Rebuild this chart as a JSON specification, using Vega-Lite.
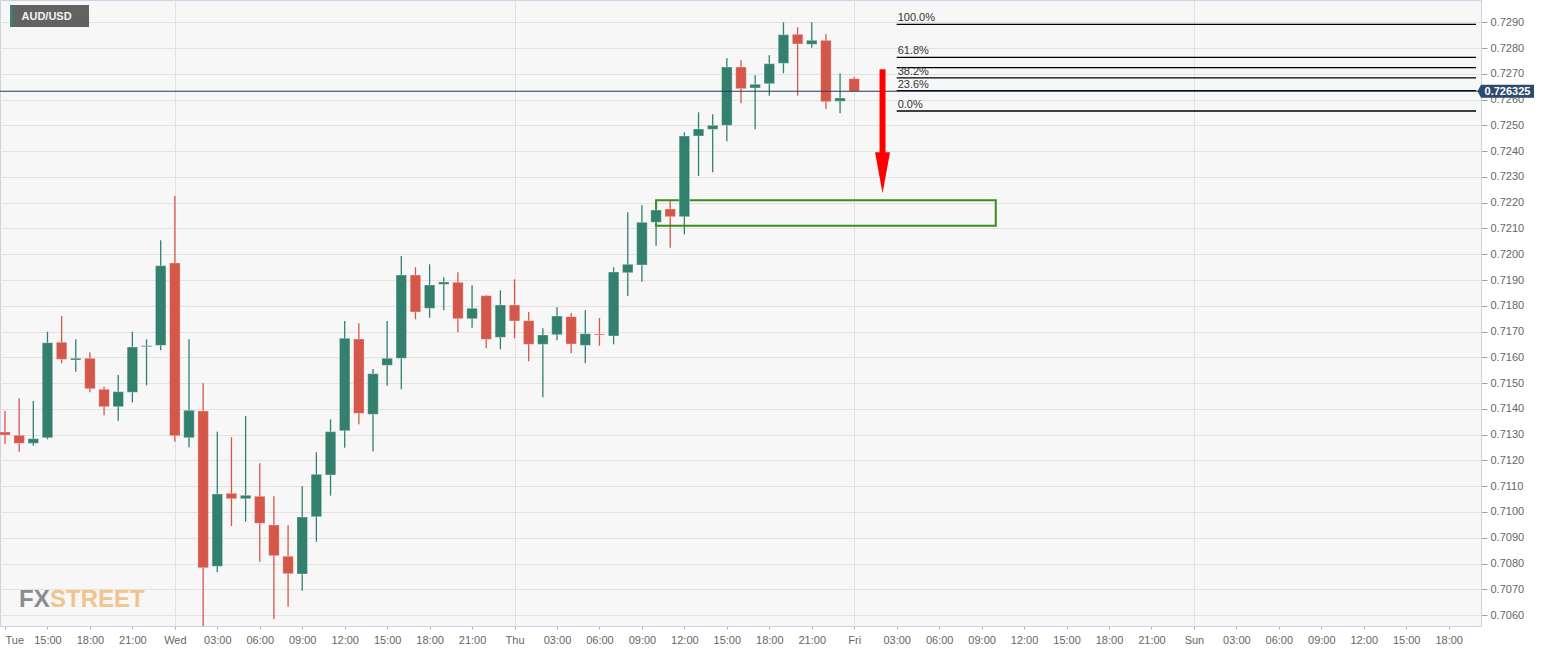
{
  "$schema": "https://vega.github.io/schema/vega-lite/v6.json",
  "width": 1481,
  "height": 626,
  "autosize": "none",
  "padding": {"left": 0, "top": 0, "right": 71, "bottom": 26},
  "background": "#ffffff",
  "config": {
    "view": {"fill": "#f7f7f7", "stroke": "#cdd2e6", "strokeWidth": 1},
    "font": "Liberation Sans",
    "axis": {"labelFont": "Liberation Sans", "labelOverlap": false},
    "axisY": {"labelOverlap": false},
    "axisQuantitative": {"labelOverlap": false}
  },
  "data": {"values": [{}]},
  "datasets": {
    "candles": [
      {"t": -12, "o": 0.713103, "h": 0.713918, "l": 0.712638, "c": 0.712987},
      {"t": -11, "o": 0.712975, "h": 0.714411, "l": 0.712339, "c": 0.712665},
      {"t": -10, "o": 0.712665, "h": 0.714306, "l": 0.712572, "c": 0.712843},
      {"t": -9, "o": 0.712882, "h": 0.716995, "l": 0.71282, "c": 0.716568},
      {"t": -8, "o": 0.716584, "h": 0.717604, "l": 0.715769, "c": 0.715924},
      {"t": -7, "o": 0.715897, "h": 0.7167, "l": 0.715443, "c": 0.715963},
      {"t": -6, "o": 0.715963, "h": 0.716196, "l": 0.714644, "c": 0.714783},
      {"t": -5, "o": 0.71476, "h": 0.714861, "l": 0.713751, "c": 0.714085},
      {"t": -4, "o": 0.714085, "h": 0.715315, "l": 0.713542, "c": 0.714667},
      {"t": -3, "o": 0.714644, "h": 0.716995, "l": 0.714256, "c": 0.716401},
      {"t": -2, "o": 0.716413, "h": 0.7167, "l": 0.714915, "c": 0.716452},
      {"t": -1, "o": 0.716467, "h": 0.720541, "l": 0.716273, "c": 0.719556},
      {"t": 0, "o": 0.719661, "h": 0.72226, "l": 0.712727, "c": 0.71296},
      {"t": 1, "o": 0.712882, "h": 0.7167, "l": 0.71251, "c": 0.713945},
      {"t": 2, "o": 0.713918, "h": 0.714993, "l": 0.705421, "c": 0.707838},
      {"t": 3, "o": 0.707893, "h": 0.713115, "l": 0.70766, "c": 0.710698},
      {"t": 4, "o": 0.710725, "h": 0.712898, "l": 0.709456, "c": 0.710515},
      {"t": 5, "o": 0.710515, "h": 0.713724, "l": 0.709623, "c": 0.710647},
      {"t": 6, "o": 0.710609, "h": 0.711889, "l": 0.708071, "c": 0.709561},
      {"t": 7, "o": 0.709495, "h": 0.710609, "l": 0.705836, "c": 0.708304},
      {"t": 8, "o": 0.708281, "h": 0.709483, "l": 0.706325, "c": 0.707605},
      {"t": 9, "o": 0.707594, "h": 0.710997, "l": 0.706946, "c": 0.709805},
      {"t": 10, "o": 0.709817, "h": 0.712316, "l": 0.708847, "c": 0.711462},
      {"t": 11, "o": 0.711435, "h": 0.713596, "l": 0.710632, "c": 0.713115},
      {"t": 12, "o": 0.713154, "h": 0.71741, "l": 0.712494, "c": 0.716739},
      {"t": 13, "o": 0.716712, "h": 0.717321, "l": 0.713402, "c": 0.713829},
      {"t": 14, "o": 0.71379, "h": 0.715548, "l": 0.712347, "c": 0.715365},
      {"t": 15, "o": 0.715691, "h": 0.71741, "l": 0.7149, "c": 0.715963},
      {"t": 16, "o": 0.715963, "h": 0.719932, "l": 0.71476, "c": 0.719195},
      {"t": 17, "o": 0.719195, "h": 0.719494, "l": 0.717476, "c": 0.717759},
      {"t": 18, "o": 0.717903, "h": 0.71961, "l": 0.717538, "c": 0.718807},
      {"t": 19, "o": 0.718834, "h": 0.719106, "l": 0.717825, "c": 0.718923},
      {"t": 20, "o": 0.718912, "h": 0.7193, "l": 0.716972, "c": 0.717499},
      {"t": 21, "o": 0.717499, "h": 0.718795, "l": 0.71715, "c": 0.717903},
      {"t": 22, "o": 0.718392, "h": 0.718419, "l": 0.716351, "c": 0.7167},
      {"t": 23, "o": 0.716778, "h": 0.718601, "l": 0.716312, "c": 0.718031},
      {"t": 24, "o": 0.718031, "h": 0.719028, "l": 0.716739, "c": 0.71741},
      {"t": 25, "o": 0.717422, "h": 0.717759, "l": 0.715847, "c": 0.716506},
      {"t": 26, "o": 0.716506, "h": 0.717127, "l": 0.71445, "c": 0.716867},
      {"t": 27, "o": 0.716879, "h": 0.717942, "l": 0.716661, "c": 0.717604},
      {"t": 28, "o": 0.717577, "h": 0.717721, "l": 0.716157, "c": 0.716518},
      {"t": 29, "o": 0.716467, "h": 0.717825, "l": 0.715769, "c": 0.716917},
      {"t": 30, "o": 0.716906, "h": 0.717527, "l": 0.716452, "c": 0.716867},
      {"t": 31, "o": 0.716828, "h": 0.719494, "l": 0.716506, "c": 0.719311},
      {"t": 32, "o": 0.719284, "h": 0.721628, "l": 0.71838, "c": 0.71961},
      {"t": 33, "o": 0.719583, "h": 0.721899, "l": 0.718935, "c": 0.72124},
      {"t": 34, "o": 0.72124, "h": 0.721989, "l": 0.720332, "c": 0.721717},
      {"t": 35, "o": 0.721756, "h": 0.722066, "l": 0.720254, "c": 0.721457},
      {"t": 36, "o": 0.721457, "h": 0.724732, "l": 0.720774, "c": 0.724588},
      {"t": 37, "o": 0.724588, "h": 0.725508, "l": 0.723036, "c": 0.72486},
      {"t": 38, "o": 0.724848, "h": 0.72543, "l": 0.72318, "c": 0.725003},
      {"t": 39, "o": 0.725003, "h": 0.727603, "l": 0.724383, "c": 0.727265},
      {"t": 40, "o": 0.727265, "h": 0.727525, "l": 0.725857, "c": 0.726423},
      {"t": 41, "o": 0.726451, "h": 0.726943, "l": 0.724848, "c": 0.726594},
      {"t": 42, "o": 0.726617, "h": 0.727719, "l": 0.726152, "c": 0.727393},
      {"t": 43, "o": 0.727409, "h": 0.729, "l": 0.727021, "c": 0.728519},
      {"t": 44, "o": 0.728534, "h": 0.728806, "l": 0.726152, "c": 0.728158},
      {"t": 45, "o": 0.728146, "h": 0.729, "l": 0.728014, "c": 0.728301},
      {"t": 46, "o": 0.728301, "h": 0.728534, "l": 0.725647, "c": 0.725919},
      {"t": 47, "o": 0.725935, "h": 0.727021, "l": 0.725469, "c": 0.726063},
      {"t": 48, "o": 0.726811, "h": 0.726877, "l": 0.726325, "c": 0.726325}
    ],
    "fib": [
      {"lab": "100.0%", "p": 0.72892},
      {"lab": "61.8%", "p": 0.727636},
      {"lab": "", "p": 0.727239},
      {"lab": "38.2%", "p": 0.726842},
      {"lab": "23.6%", "p": 0.726351},
      {"lab": "0.0%", "p": 0.725558}
    ],
    "zone": [
      {"t0": 34, "t1": 58, "top": 0.722093, "bottom": 0.721108}
    ]
  },
  "layer": [
    {
      "data": {"name": "candles"},
      "mark": {"type": "rule", "strokeWidth": 1.3, "clip": true},
      "encoding": {
        "x": {
          "field": "t", "type": "quantitative", "title": null,
          "scale": {"domain": [-12, 91.93], "nice": false, "zero": false},
          "axis": {
            "orient": "bottom",
            "values": [-12, -9, -6, -3, 0, 3, 6, 9, 12, 15, 18, 21, 24, 27, 30, 33, 36, 39, 42, 45, 48, 51, 54, 57, 60, 63, 66, 69, 72, 75, 78, 81, 84, 87, 90],
            "labelExpr": "datum.value === -12 ? 'Tue' : datum.value === 0 ? 'Wed' : datum.value === 24 ? 'Thu' : datum.value === 48 ? 'Fri' : datum.value === 72 ? 'Sun' : ((((datum.value % 24) + 24) % 24) < 10 ? '0' : '') + (((datum.value % 24) + 24) % 24) + ':00'",
            "labelFontSize": 11,
            "labelColor": "#666666",
            "labelPadding": 5,
            "labelOverlap": false,
            "labelAlign": {"condition": {"test": "datum.value === -12", "value": "left"}, "value": "center"},
            "tickColor": "#b0b0b0",
            "tickSize": 3,
            "domainColor": "#cdd2e6",
            "grid": true,
            "gridColor": "#e2e2e2",
            "gridOpacity": {"condition": {"test": "datum.value % 24 === 0", "value": 1}, "value": 0}
          }
        },
        "y": {
          "field": "l", "type": "quantitative", "title": null,
          "scale": {"domain": [0.705576, 0.729865], "nice": false, "zero": false},
          "axis": {
            "orient": "right",
            "values": [0.706, 0.707, 0.708, 0.709, 0.71, 0.711, 0.712, 0.713, 0.714, 0.715, 0.716, 0.717, 0.718, 0.719, 0.72, 0.721, 0.722, 0.723, 0.724, 0.725, 0.726, 0.727, 0.728, 0.729],
            "tickCount": 25,
            "format": ".4f",
            "labelFontSize": 11,
            "labelColor": "#666666",
            "labelPadding": 3,
            "labelOverlap": false,
            "labelSeparation": 0,
            "tickColor": "#a0a0a0",
            "tickSize": 6,
            "domainColor": "#cdd2e6",
            "grid": true,
            "gridColor": "#e2e2e2"
          }
        },
        "y2": {"field": "h"},
        "color": {"condition": {"test": "datum.o > datum.c", "value": "#d5574a"}, "value": "#33806f"}
      }
    },
    {
      "data": {"name": "fib"},
      "mark": {"type": "rule", "color": "#000000", "strokeWidth": 1.3, "clip": true},
      "encoding": {
        "x": {"datum": 51, "type": "quantitative"},
        "x2": {"datum": 91.93},
        "y": {"field": "p", "type": "quantitative", "title": null}
      }
    },
    {
      "data": {"name": "fib"},
      "mark": {"type": "text", "align": "left", "baseline": "alphabetic", "dx": 1, "dy": -3, "fontSize": 11, "color": "#333333", "font": "Liberation Sans"},
      "encoding": {
        "x": {"datum": 51, "type": "quantitative"},
        "y": {"field": "p", "type": "quantitative", "title": null},
        "text": {"field": "lab"}
      }
    },
    {
      "data": {"name": "zone"},
      "mark": {"type": "rect", "fill": "transparent", "stroke": "#3d8c1e", "strokeWidth": 2},
      "encoding": {
        "x": {"field": "t0", "type": "quantitative", "title": null},
        "x2": {"field": "t1"},
        "y": {"field": "top", "type": "quantitative", "title": null},
        "y2": {"field": "bottom"}
      }
    },
    {
      "data": {"name": "candles"},
      "mark": {"type": "bar", "width": 10.5, "clip": true, "stroke": "#ffffff", "strokeOpacity": 0.3, "strokeWidth": 1},
      "encoding": {
        "x": {"field": "t", "type": "quantitative", "title": null},
        "y": {"field": "o", "type": "quantitative", "title": null},
        "y2": {"field": "c"},
        "color": {"condition": {"test": "datum.o > datum.c", "value": "#d5574a"}, "value": "#33806f"}
      }
    },
    {
      "mark": {"type": "rule", "color": "#243a5e", "strokeWidth": 1},
      "encoding": {"y": {"datum": 0.726325, "type": "quantitative"}}
    },
    {
      "mark": {"type": "rule", "color": "#ff0000", "strokeWidth": 6, "strokeCap": "butt"},
      "encoding": {
        "x": {"datum": 50, "type": "quantitative"},
        "y": {"datum": 0.727176, "type": "quantitative"},
        "y2": {"datum": 0.72393}
      }
    },
    {
      "mark": {"type": "point", "shape": "M0,0 L-7.5,-41 L7.5,-41 Z", "size": 4, "filled": true, "color": "#ff0000", "strokeWidth": 0, "opacity": 1},
      "encoding": {
        "x": {"datum": 50, "type": "quantitative"},
        "y": {"datum": 0.722365, "type": "quantitative"}
      }
    },
    {
      "mark": {"type": "point", "shape": "M1.5,0 L5,-6.5 L58,-6.5 L58,6.5 L5,6.5 Z", "size": 4, "filled": true, "color": "#2c4a6e", "strokeWidth": 0, "opacity": 1},
      "encoding": {
        "x": {"datum": 91.93, "type": "quantitative"},
        "y": {"datum": 0.726325, "type": "quantitative"}
      }
    },
    {
      "mark": {"type": "text", "align": "center", "baseline": "middle", "dx": 31.5, "dy": 0.5, "fontSize": 11, "fontWeight": "bold", "color": "#ffffff", "font": "Liberation Sans"},
      "encoding": {
        "x": {"datum": 91.93, "type": "quantitative"},
        "y": {"datum": 0.726325, "type": "quantitative"},
        "text": {"value": "0.726325"}
      }
    },
    {
      "mark": {"type": "point", "shape": "M5,5 L84,5 L84,27 L5,27 Z", "size": 4, "filled": true, "color": "#5a5a5a", "strokeWidth": 0, "opacity": 0.95},
      "encoding": {
        "x": {"datum": -12, "type": "quantitative"},
        "y": {"datum": 0.729865, "type": "quantitative"}
      }
    },
    {
      "mark": {"type": "point", "shape": "M5,5 L7.5,5 L7.5,27 L5,27 Z", "size": 4, "filled": true, "color": "#2f8a6f", "strokeWidth": 0, "opacity": 1},
      "encoding": {
        "x": {"datum": -12, "type": "quantitative"},
        "y": {"datum": 0.729865, "type": "quantitative"}
      }
    },
    {
      "mark": {"type": "text", "align": "left", "baseline": "middle", "dx": 16.5, "dy": 16.5, "fontSize": 11, "fontWeight": "bold", "color": "#f2f2f2", "font": "Liberation Sans"},
      "encoding": {
        "x": {"datum": -12, "type": "quantitative"},
        "y": {"datum": 0.729865, "type": "quantitative"},
        "text": {"value": "AUD/USD"}
      }
    },
    {
      "mark": {"type": "text", "align": "left", "baseline": "alphabetic", "dx": 14, "fontSize": 24, "fontWeight": "bold", "color": "#8a8c91", "font": "Liberation Sans"},
      "encoding": {
        "x": {"datum": -12, "type": "quantitative"},
        "y": {"datum": 0.706313, "type": "quantitative"},
        "text": {"value": "FX"}
      }
    },
    {
      "mark": {"type": "text", "align": "left", "baseline": "alphabetic", "dx": 45, "fontSize": 24, "fontWeight": "bold", "color": "#f2c48d", "font": "Liberation Sans"},
      "encoding": {
        "x": {"datum": -12, "type": "quantitative"},
        "y": {"datum": 0.706313, "type": "quantitative"},
        "text": {"value": "STREET"}
      }
    }
  ]
}
